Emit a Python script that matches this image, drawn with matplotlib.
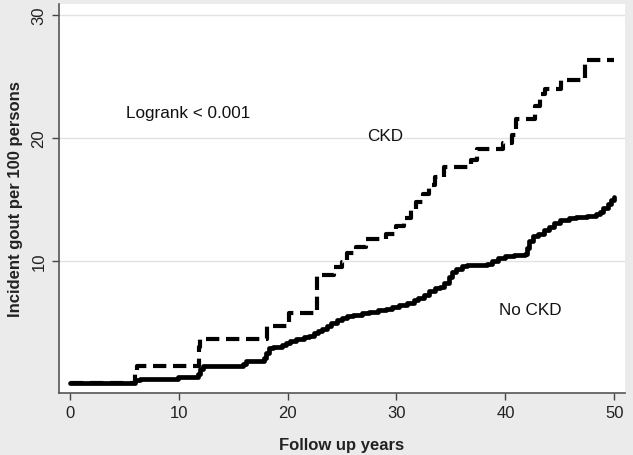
import matplotlib
matplotlib.use("Agg")
import matplotlib.pyplot as plt

plt.rcParams['font.family'] = ['Liberation Sans', 'DejaVu Sans']

# No CKD (solid) cumulative incidence, step function
nockd_t = [0, 6.0, 6.5, 9.9, 10.5, 11.8, 12.0, 12.2, 15.9, 16.2, 17.8, 18.0, 18.3, 18.7,
           19.5, 19.9, 20.2, 20.8, 21.5, 22.0, 22.4, 22.8, 23.2, 23.6, 24.0, 24.5, 25.0,
           25.5, 26.0, 26.8, 27.5, 28.3, 29.0, 29.6, 30.2, 31.0, 31.6, 32.0, 32.5, 33.0,
           33.5, 34.0, 34.4, 34.8, 35.1, 35.5, 36.0, 36.5, 38.3, 38.8, 39.3, 40.0, 40.8,
           41.8, 42.0, 42.2, 42.5, 43.0, 43.5, 44.0, 44.5, 45.0, 45.8, 46.5, 47.5, 48.3,
           48.7, 49.0, 49.4, 49.7, 50.0]
nockd_v = [0, 0.3, 0.4, 0.5, 0.55, 0.8, 1.2, 1.45, 1.6, 1.85, 2.1, 2.5, 2.9, 3.0,
           3.1, 3.3, 3.5, 3.6, 3.75, 3.9, 4.1, 4.3, 4.45, 4.7, 4.95, 5.15, 5.35,
           5.5, 5.6, 5.75, 5.85, 5.95, 6.05, 6.2, 6.4, 6.55, 6.8, 7.0, 7.2, 7.5,
           7.75, 7.85, 8.2, 8.7, 9.1, 9.35, 9.55, 9.65, 9.75, 10.0, 10.2, 10.35, 10.45,
           10.55, 11.0, 11.6, 12.0, 12.2, 12.5, 12.75, 13.1, 13.3, 13.45, 13.55, 13.65, 13.8,
           14.0, 14.3, 14.6, 14.9, 15.2]

# CKD (dashed)
ckd_t = [0, 6.0, 6.2, 11.9, 12.0, 18.1, 20.1, 22.7, 24.3, 25.0, 25.5, 26.3, 27.2, 29.0,
         30.0, 30.7, 31.3, 31.8, 32.4, 33.0, 33.5, 34.4, 36.8, 37.4, 39.8, 40.6, 41.0,
         42.7, 43.2, 43.6, 45.1, 47.3, 50.0]
ckd_v = [0, 0.8, 1.45, 3.0, 3.6, 4.65, 5.7, 8.8, 9.5, 9.9, 10.6, 11.1, 11.8, 12.2,
         12.8, 13.5, 14.2, 14.8, 15.4, 16.2, 16.8, 17.6, 18.2, 19.1, 19.6, 20.2, 21.5,
         22.6, 23.6, 24.0, 24.7, 26.3, 26.3]

xticks = [0, 10, 20, 30, 40, 50]
yticks = [10, 20, 30]

fig = plt.figure(figsize=(6.33, 4.56), dpi=100)
fig.patch.set_facecolor('#ebebeb')
ax = fig.add_axes([59/633, 1 - 393.7/456, (625 - 59)/633, (393.7 - 5)/456])
ax.set_facecolor('white')

ax.plot(nockd_t, nockd_v, drawstyle='steps-post', color='black', lw=3.4,
        solid_joinstyle='round', solid_capstyle='round')
ax.plot(ckd_t, ckd_v, drawstyle='steps-post', color='black', lw=3.0,
        linestyle=(0, (3.2, 1.6)))

ax.set_xlim(-0.98, 50.98)
ax.set_ylim(-0.75, 30.9)
ax.set_xticks(xticks)
ax.set_yticks(yticks)
ax.set_yticklabels([str(v) for v in yticks], rotation=90, va='center')
ax.tick_params(axis='both', direction='out', length=5, width=1, colors='#444444',
               labelcolor='#222222', labelsize=12)
ax.tick_params(axis='x', pad=4)
ax.tick_params(axis='y', pad=4)
ax.grid(axis='y', color='#e2e2e2', lw=1)
ax.set_axisbelow(True)
for s in ['top', 'right']:
    ax.spines[s].set_visible(False)
for s in ['left', 'bottom']:
    ax.spines[s].set_color('#555555')
    ax.spines[s].set_linewidth(1.2)

ax.set_xlabel('Follow up years', fontsize=12, fontweight='bold', color='#222222', labelpad=12)
ax.set_ylabel('Incident gout per 100 persons', fontsize=12, fontweight='bold',
              color='#222222', labelpad=6)

ax.text(5.15, 22.1, 'Logrank < 0.001', fontsize=12.3, color='#111111', va='center', ha='left')
ax.text(29.0, 20.2, 'CKD', fontsize=12.3, color='#111111', va='center', ha='center')
ax.text(42.3, 6.0, 'No CKD', fontsize=12.3, color='#111111', va='center', ha='center')

fig.savefig('out.png', dpi=100, facecolor=fig.get_facecolor())
